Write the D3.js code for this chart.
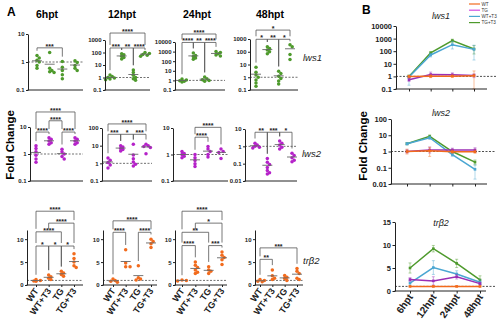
<!DOCTYPE html>
<html>
<head>
<meta charset="utf-8">
<script src="https://cdn.jsdelivr.net/npm/d3@7"></script>
<style>
  body { margin: 0; background: #fff; }
  svg { font-family: "Liberation Sans", Arial, sans-serif; }
</style>
</head>
<body>
<svg id="chart" width="500" height="323"></svg>
<script>
const groups = ["WT", "WT+T3", "TG", "TG+T3"]
const times = ["6hpt", "12hpt", "24hpt", "48hpt"]

// panel A: per time point, one list of fold changes per group
const lws1Points = [
  [[1.7, 1.4, 1.15, 1.0, 0.75, 0.6], [2.2, 0.6, 0.5, 0.45, 0.42], [1.05, 0.65, 0.5, 0.35, 0.25], [1.1, 0.95, 0.75, 0.6, 0.5]],
  [[1.6, 1.2, 1.0, 0.9, 0.75, 0.65], [80, 65, 50, 40, 30], [4, 2.5, 1.5, 1.0, 0.8, 0.6], [100, 85, 70, 60, 50]],
  [[1.4, 1.1, 0.9, 0.8, 0.7], [700, 400, 300, 220, 160], [2.2, 1.5, 1.2, 1.0, 0.8], [1000, 800, 600, 450, 350]],
  [[6, 2.5, 1.5, 1.0, 0.6, 0.35, 0.2], [250, 180, 140, 100, 70], [3, 2, 1.2, 0.8, 0.5, 0.3], [350, 250, 60, 25]]
]
const lws2Points = [
  [[2.0, 1.6, 1.2, 0.9, 0.65, 0.5], [4.0, 3.5, 3.0, 2.6, 2.3], [1.5, 1.2, 1.0, 0.8, 0.65], [4.0, 3.5, 3.0, 2.6, 2.3]],
  [[2.0, 1.5, 1.1, 0.8, 0.55], [10, 8.5, 7, 6, 5], [12, 3, 1.8, 1.2, 0.9, 0.7], [12, 10, 9, 8, 3.5]],
  [[1.3, 1.1, 1.0, 0.85, 0.75], [1.0, 0.75, 0.6, 0.45, 0.35], [2.0, 1.6, 1.3, 1.0, 0.8], [1.6, 1.3, 1.2, 0.7]],
  [[1.5, 1.2, 1.0, 0.9, 0.8], [0.2, 0.12, 0.09, 0.06, 0.04, 0.03, 0.025], [2.0, 1.5, 1.2, 0.9, 0.7], [0.4, 0.3, 0.22, 0.16, 0.13]]
]
const trb2Points = [
  [[1.2, 1.0, 0.9, 0.8], [2.2, 1.8, 1.5, 1.2], [3.0, 2.6, 2.3, 1.9], [6.8, 5.8, 5.0, 4.2, 3.8]],
  [[1.3, 1.0, 0.8, 0.6], [7.7, 4.8, 4.0, 4.0], [4.2, 1.6, 1.3, 1.1], [10, 9.5, 9.0, 8.2]],
  [[1.1, 1.0, 0.9], [5.0, 4.3, 3.8, 3.3, 2.8, 2.5], [4.0, 3.3, 3.0, 2.5], [7.2, 6.5, 6.0, 5.5, 4.5]],
  [[1.2, 1.0, 0.8, 0.7], [3.3, 2.0, 1.5, 1.2], [2.1, 1.7, 1.4, 1.0], [3.6, 3.0, 2.5, 1.5, 1.2]]
]

// significance brackets: [from group, to group, stars, height in fold change]
const lws1Sig = [
  [[0, 2, "***", 3.2]],
  [[0, 3, "****", 3600], [0, 1, "***", 230], [1, 2, "**", 230], [2, 3, "****", 230]],
  [[0, 3, "****", 68000], [0, 1, "****", 9000], [1, 2, "**", 9000], [2, 3, "****", 9000]],
  [[0, 3, "*", 5000], [0, 1, "*", 950], [1, 2, "**", 950], [2, 3, "*", 950]]
]
const lws2Sig = [
  [[0, 3, "****", 36], [1, 2, "****", 17], [0, 1, "****", 6.5], [2, 3, "****", 6.5]],
  [[0, 3, "****", 170], [0, 1, "***", 44], [1, 2, "*", 44], [2, 3, "***", 44]],
  [[1, 3, "****", 10.6], [1, 2, "****", 4.5]],
  [[0, 1, "**", 6.5], [1, 2, "***", 6.5], [2, 3, "*", 6.5]]
]
const trb2Sig = [
  [[0, 3, "****", 16.1], [1, 3, "****", 13.5], [0, 2, "****", 11.6], [0, 1, "*", 8.5], [1, 2, "*", 8.5], [2, 3, "*", 8.5]],
  [[0, 3, "****", 14.0], [0, 1, "****", 11.5], [2, 3, "****", 11.5]],
  [[0, 3, "****", 16.1], [1, 3, "*", 13.5], [0, 2, "**", 11.5], [0, 1, "****", 8.6], [2, 3, "***", 8.6]],
  [[0, 3, "***", 8.1], [0, 1, "**", 5.6]]
]

// panel B: mean and error bar ends per time point
const lws1Lines = [
  { name: "TG+T3", mean: [1.0, 75, 700, 150], lo: [0.7, 60, 500, 60], hi: [1.3, 90, 900, 280] },
  { name: "WT+T3", mean: [0.9, 50, 330, 140], lo: [0.2, 35, 150, 20], hi: [1.2, 65, 600, 300] },
  { name: "TG", mean: [0.55, 1.4, 1.35, 1.2], lo: [0.4, 0.9, 1.0, 0.8], hi: [0.8, 2.2, 1.9, 1.6] },
  { name: "WT", mean: [1.0, 1.05, 1.05, 1.15], lo: [0.8, 0.8, 0.85, 0.1], hi: [1.2, 1.3, 1.3, 2.7] }
]
const lws2Lines = [
  { name: "TG+T3", mean: [3.0, 8.5, 1.0, 0.22], lo: [2.6, 7.0, 0.8, 0.15], hi: [3.4, 10.5, 1.3, 0.3] },
  { name: "WT+T3", mean: [3.0, 7.0, 0.65, 0.08], lo: [2.5, 5.5, 0.5, 0.02], hi: [3.5, 8.5, 0.8, 0.15] },
  { name: "TG", mean: [1.0, 1.25, 1.25, 1.25], lo: [0.8, 0.8, 1.0, 0.9], hi: [1.3, 1.9, 1.6, 1.7] },
  { name: "WT", mean: [1.0, 1.1, 0.95, 0.95], lo: [0.7, 0.5, 0.8, 0.8], hi: [1.4, 1.8, 1.2, 1.2] }
]
const trb2Lines = [
  { name: "TG+T3", mean: [5.0, 9.2, 6.0, 2.4], lo: [3.9, 8.5, 5.1, 1.5], hi: [6.1, 9.9, 6.9, 3.3] },
  { name: "WT+T3", mean: [1.7, 5.1, 3.7, 1.9], lo: [1.1, 3.6, 3.0, 1.4], hi: [2.3, 6.6, 4.4, 2.4] },
  { name: "TG", mean: [2.5, 2.2, 3.1, 1.6], lo: [2.1, 1.3, 2.6, 1.3], hi: [2.9, 3.1, 3.6, 1.9] },
  { name: "WT", mean: [1, 1, 1, 1], lo: [0.9, 0.9, 0.9, 0.9], hi: [1.1, 1.1, 1.1, 1.1] }
]
const legendOrder = ["WT", "TG", "WT+T3", "TG+T3"]
const lineColor = { "WT": "#f26b1d", "TG": "#9a2fb5", "WT+T3": "#4aa6d2", "TG+T3": "#4e9a2c" }

const svg = d3.select("#chart")

function logTicks(domain) {
  let a = Math.round(Math.log10(domain[0])), b = Math.round(Math.log10(domain[1]))
  return d3.range(a, b + 1).map(k => Math.pow(10, k))
}
function fmt(v) { return v >= 1 ? String(Math.round(v)) : String(v) }

// ---------- panel A ----------
svg.append("text").attr("x", 7).attr("y", 16).attr("font-size", 12).attr("font-weight", "bold").text("A")
svg.append("text").attr("x", 14).attr("y", 145).attr("font-size", 11.5).attr("font-weight", "bold")
  .attr("text-anchor", "middle").attr("transform", "rotate(-90,14,145)").text("Fold Change")

const titleX = [47, 122, 197, 270]
times.forEach((t, i) => {
  svg.append("text").attr("x", titleX[i]).attr("y", 18).attr("font-size", 10.5).attr("font-weight", "bold")
    .attr("text-anchor", "middle").text(t)
})

const rows = [
  { gene: "lws1", pts: lws1Points, sig: lws1Sig, color: "#4e9a2c", log: true,
    domains: [[0.1, 10], [0.1, 1000], [0.1, 10000], [0.1, 1000]], bottom: 90, tops: [34, 40, 42, 39],
    cols: [[28, 37, 75, 83], [105, 110, 145, 150], [175, 182, 216, 225], [250, 256, 290, 298]], label: [303, 61] },
  { gene: "lws2", pts: lws2Points, sig: lws2Sig, color: "#b522c9", log: true,
    domains: [[0.1, 10], [0.1, 100], [0.1, 10], [0.01, 10]], bottom: 181, tops: [127, 128, 128, 129],
    cols: [[30, 36, 75, 83], [102, 108, 146, 152], [173, 182, 221, 228], [245, 255, 292, 297]], label: [302, 157] },
  { gene: "trβ2", pts: trb2Points, sig: trb2Sig, color: "#f26b1d", log: false,
    domains: [[0, 12], [0, 12], [0, 12], [0, 12]], bottom: 285, tops: [230, 230, 230, 230],
    cols: [[27, 36, 74, 83], [103, 113, 151, 157], [175, 182, 222, 227], [255, 260, 297, 303]], label: [303, 264] }
]

const r = 1.75

rows.forEach(row => {
  row.cols.forEach((c, ci) => {
    const g = svg.append("g")
    const y = (row.log ? d3.scaleLog() : d3.scaleLinear()).domain(row.domains[ci]).range([row.bottom, row.tops[ci]])
    const x = d3.scalePoint().domain(groups).range([c[1], c[2]])

    // dashed reference at fold change 1
    g.append("line").attr("x1", c[0]).attr("x2", c[3]).attr("y1", y(1)).attr("y2", y(1))
      .attr("stroke", "#333").attr("stroke-width", 0.7).attr("stroke-dasharray", "2,1.5")

    // points, spread sideways when they overlap
    const tops = []
    row.pts[ci].forEach((vals, gi) => {
      const cx = x(groups[gi])
      const placed = []
      vals.map(v => y(v)).sort((a, b) => a - b).forEach(py => {
        const offs = [0, 1, -1, 2, -2]
        let px = cx
        for (const k of offs) {
          const tx = cx + k * 2.2
          if (placed.every(p => Math.hypot(p[0] - tx, p[1] - py) >= 2 * r * 0.7)) { px = tx; break }
        }
        placed.push([px, py])
      })
      g.selectAll(null).data(placed).join("circle")
        .attr("cx", d => d[0]).attr("cy", d => d[1]).attr("r", r).attr("fill", row.color)
      const m = d3.mean(vals)
      g.append("line").attr("x1", cx - 5).attr("x2", cx + 5).attr("y1", y(m)).attr("y2", y(m))
        .attr("stroke", "#666").attr("stroke-width", 0.9)
      tops[gi] = d3.min(placed, d => d[1]) - r
    })

    // significance brackets
    const sig = row.sig[ci]
    sig.forEach(s => {
      const by = y(s[3])
      const legEnd = gi => {
        let lim = tops[gi]
        sig.forEach(o => {
          if (o === s) return
          const oy = y(o[3])
          if (oy > by && o[0] <= gi && o[1] >= gi) lim = Math.min(lim, oy)
        })
        return Math.max(by + 2, lim - 3)
      }
      const x1 = x(groups[s[0]]), x2 = x(groups[s[1]])
      g.append("path")
        .attr("d", `M${x1},${legEnd(s[0])}V${by}H${x2}V${legEnd(s[1])}`)
        .attr("fill", "none").attr("stroke", "#555").attr("stroke-width", 0.8)
      g.append("text").attr("x", (x1 + x2) / 2).attr("y", by + 0.8).attr("text-anchor", "middle")
        .attr("font-size", 7).attr("font-weight", "bold").attr("fill", "#222").text(s[2])
    })

    // axes
    const yAxis = d3.axisLeft(y).tickSize(2).tickSizeOuter(0).tickPadding(1.5)
    if (row.log) yAxis.tickValues(logTicks(row.domains[ci])).tickFormat(fmt)
    else yAxis.tickValues([0, 5, 10])
    const ya = g.append("g").attr("transform", `translate(${c[0]},0)`).call(yAxis)
    ya.select(".domain").attr("stroke", "#222").attr("stroke-width", 1)
    ya.selectAll(".tick line").attr("stroke", "#222")
    ya.selectAll("text").attr("font-size", 6).attr("font-weight", "bold").attr("fill", "#222")
      .attr("font-family", '"Liberation Sans", Arial, sans-serif')
    g.append("line").attr("x1", c[0] - 0.5).attr("x2", c[3]).attr("y1", row.bottom).attr("y2", row.bottom)
      .attr("stroke", "#222").attr("stroke-width", 1)

    if (!row.log) {
      const xa = g.append("g").attr("transform", `translate(0,${row.bottom})`)
        .call(d3.axisBottom(x).tickSize(2).tickFormat(""))
      xa.select(".domain").remove()
      xa.selectAll(".tick line").attr("stroke", "#222")
      groups.forEach(gr => {
        const tx = x(gr) + 3, ty = row.bottom + 6
        g.append("text").attr("x", tx).attr("y", ty).attr("text-anchor", "end")
          .attr("font-size", 9).attr("font-weight", "bold").attr("fill", "#222")
          .attr("transform", `rotate(-55,${tx},${ty})`).text(gr)
      })
    }
  })
  svg.append("text").attr("x", row.label[0]).attr("y", row.label[1]).attr("font-size", 9.5)
    .attr("font-style", "italic").attr("fill", "#222").text(row.gene)
})

// ---------- panel B ----------
svg.append("text").attr("x", 362).attr("y", 14).attr("font-size", 12).attr("font-weight", "bold").text("B")
svg.append("text").attr("x", 367).attr("y", 146).attr("font-size", 11.5).attr("font-weight", "bold")
  .attr("text-anchor", "middle").attr("transform", "rotate(-90,367,146)").text("Fold Change")

const charts = [
  { title: "lws1", lines: lws1Lines, log: true, domain: [0.1, 10000], range: [89, 26], axisX: 396, cats: [409, 474], end: 487, titleY: 19 },
  { title: "lws2", lines: lws2Lines, log: true, domain: [0.01, 100], range: [184, 119], axisX: 391, cats: [407, 475], end: 487, titleY: 116 },
  { title: "trβ2", lines: trb2Lines, log: false, domain: [0, 15], range: [291, 222], axisX: 395, cats: [410, 480], end: 486, titleY: 226 }
]

charts.forEach((ch, ci) => {
  const g = svg.append("g")
  const y = (ch.log ? d3.scaleLog() : d3.scaleLinear()).domain(ch.domain).range(ch.range)
  const x = d3.scalePoint().domain(times).range(ch.cats)

  g.append("text").attr("x", 441).attr("y", ch.titleY).attr("text-anchor", "middle")
    .attr("font-size", 9).attr("font-style", "italic").attr("fill", "#222").text(ch.title)

  g.append("line").attr("x1", ch.axisX).attr("x2", 496).attr("y1", y(1)).attr("y2", y(1))
    .attr("stroke", "#222").attr("stroke-width", 0.8).attr("stroke-dasharray", "2,1.5")

  const line = d3.line().x((d, i) => x(times[i])).y(d => y(d))
  ch.lines.forEach(s => {
    const col = lineColor[s.name]
    times.forEach((t, i) => {
      const ex = x(t)
      g.append("path").attr("d", `M${ex},${y(s.lo[i])}V${y(s.hi[i])}M${ex - 1.5},${y(s.lo[i])}H${ex + 1.5}M${ex - 1.5},${y(s.hi[i])}H${ex + 1.5}`)
        .attr("stroke", col).attr("stroke-width", 0.8).attr("opacity", 0.55).attr("fill", "none")
    })
    g.append("path").datum(s.mean).attr("d", line).attr("fill", "none").attr("stroke", col).attr("stroke-width", 1.5)
    g.selectAll(null).data(s.mean).join("rect")
      .attr("x", (d, i) => x(times[i]) - 1.3).attr("y", d => y(d) - 1.3)
      .attr("width", 2.6).attr("height", 2.6).attr("fill", col)
  })

  const yAxis = d3.axisLeft(y).tickSize(2.5).tickSizeOuter(0).tickPadding(1.5)
  if (ch.log) yAxis.tickValues(logTicks(ch.domain)).tickFormat(fmt)
  else yAxis.tickValues([0, 5, 10, 15])
  const ya = g.append("g").attr("transform", `translate(${ch.axisX},0)`).call(yAxis)
  ya.select(".domain").attr("stroke", "#222").attr("stroke-width", 1)
  ya.selectAll(".tick line").attr("stroke", "#222")
  ya.selectAll("text").attr("font-size", 7.5).attr("font-weight", "bold").attr("fill", "#222")
    .attr("font-family", '"Liberation Sans", Arial, sans-serif')

  const by = ch.range[0]
  g.append("line").attr("x1", ch.axisX - 0.5).attr("x2", ch.end).attr("y1", by).attr("y2", by)
    .attr("stroke", "#222").attr("stroke-width", 1)
  const xa = g.append("g").attr("transform", `translate(0,${by})`).call(d3.axisBottom(x).tickSize(2.5).tickFormat(""))
  xa.select(".domain").remove()
  xa.selectAll(".tick line").attr("stroke", "#222")
  if (ci === 2) {
    times.forEach(t => {
      const tx = x(t) + 3.5, ty = by + 6
      g.append("text").attr("x", tx).attr("y", ty).attr("text-anchor", "end")
        .attr("font-size", 10).attr("font-weight", "bold").attr("fill", "#222")
        .attr("transform", `rotate(-55,${tx},${ty})`).text(t)
    })
  }
})

// legend
legendOrder.forEach((n, i) => {
  const ly = 4 + i * 6.2
  svg.append("line").attr("x1", 469).attr("x2", 480).attr("y1", ly).attr("y2", ly)
    .attr("stroke", n === "TG" ? "#d34fe0" : lineColor[n]).attr("stroke-width", 1.2)
  svg.append("text").attr("x", 481.5).attr("y", ly + 1.6).attr("font-size", 4.6).attr("fill", "#333").text(n)
})
</script>
</body>
</html>
